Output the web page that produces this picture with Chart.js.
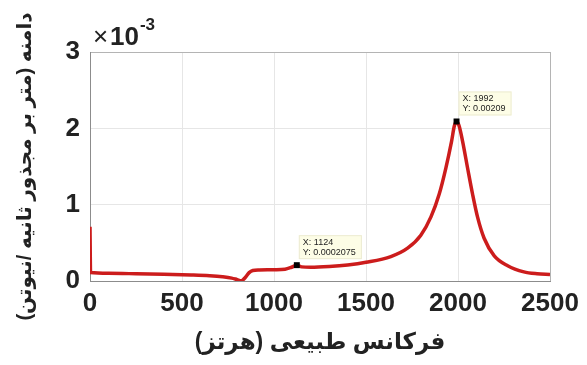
<!DOCTYPE html>
<html>
<head>
<meta charset="utf-8">
<script src="https://cdn.jsdelivr.net/npm/chart.js@4.4.0/dist/chart.umd.min.js"></script>
<style>
  html, body { margin: 0; padding: 0; background: #fff; }
  #wrap { width: 587px; height: 365px; }
</style>
</head>
<body>
<div id="wrap"><canvas id="frfChart" width="587" height="365"></canvas></div>
<script>
// frequency response: amplitude vs natural frequency
const freqHz = [0, 3, 100, 250, 400, 550, 650, 720, 770, 800, 822, 845, 865, 885, 920, 1000, 1060, 1095, 1124, 1150, 1200, 1300, 1400, 1500, 1635, 1726, 1798, 1853, 1898, 1934, 1965, 1980, 1992, 2005, 2025, 2052, 2079, 2106, 2142, 2197, 2270, 2358, 2430, 2500];
const amplitude = [0.00071, 0.00011, 0.0001, 0.000095, 0.000088, 0.000078, 0.000068, 0.000055, 0.000038, 0.000018, 0.000004, 0.00005, 0.00011, 0.000138, 0.000145, 0.000148, 0.000155, 0.00018, 0.0002075, 0.000185, 0.00018, 0.00019, 0.00021, 0.000245, 0.00032, 0.00043, 0.0006, 0.00084, 0.00114, 0.00148, 0.00183, 0.00203, 0.00209, 0.00204, 0.00183, 0.00148, 0.00114, 0.00084, 0.00056, 0.00033, 0.0002, 0.00012, 0.000095, 0.000085];
const tipFreqs = [1124, 1992];
const xTicks = [0, 500, 1000, 1500, 2000, 2500];
const yTicks = [0, 0.001, 0.002, 0.003];

const xTitle = 'فرکانس طبیعی (هرتز)';
const yTitle = 'دامنه (متر بر مجذور ثانیه /نیوتن)';
const fontFamily = '"Liberation Sans", Arial, "DejaVu Sans", sans-serif';

const points = freqHz.map((f, i) => ({ x: f, y: amplitude[i] }));

// MATLAB-style data tips next to the marked points
const dataTips = {
    id: 'dataTips',
    afterDatasetsDraw(chart) {
        const ctx = chart.ctx;
        const meta = chart.getDatasetMeta(0);
        ctx.save();
        ctx.font = '9px ' + fontFamily;
        ctx.textBaseline = 'middle';
        tipFreqs.forEach(f => {
            const i = freqHz.indexOf(f);
            const el = meta.data[i];
            const lines = ['X: ' + f, 'Y: ' + amplitude[i]];
            const w = Math.max(...lines.map(t => ctx.measureText(t).width)) + 10;
            const h = 24;
            const bx = el.x + 2, by = el.y - 6 - h;
            ctx.fillStyle = '#fdfde6';
            ctx.fillRect(bx, by, w, h);
            ctx.strokeStyle = '#ecebd2';
            ctx.lineWidth = 1;
            ctx.strokeRect(bx + 0.5, by + 0.5, w - 1, h - 1);
            ctx.fillStyle = '#222';
            ctx.fillText(lines[0], bx + 4, by + 7);
            ctx.fillText(lines[1], bx + 4, by + 17);
        });
        ctx.restore();
    }
};

// exponent label above the y axis
const exponentLabel = {
    id: 'exponentLabel',
    afterDraw(chart) {
        const ctx = chart.ctx;
        const left = chart.chartArea.left;
        ctx.save();
        ctx.fillStyle = '#222';
        ctx.textBaseline = 'alphabetic';
        ctx.font = '26px ' + fontFamily;
        ctx.fillText('\u00d7', left + 3, 45);
        ctx.font = 'bold 26px ' + fontFamily;
        ctx.fillText('10', left + 20, 45);
        const w = ctx.measureText('10').width;
        ctx.font = 'bold 17px ' + fontFamily;
        ctx.fillText('-3', left + 21 + w, 30);
        ctx.restore();
    }
};

new Chart(document.getElementById('frfChart').getContext('2d'), {
    type: 'line',
    data: {
        datasets: [{
            data: points,
            borderColor: '#cc1c1c',
            borderWidth: 3.5,
            cubicInterpolationMode: 'monotone',
            pointStyle: 'rect',
            pointRadius: ctx => tipFreqs.includes(ctx.raw && ctx.raw.x) ? 4.2 : 0,
            pointBackgroundColor: '#000',
            pointBorderColor: '#000',
            pointBorderWidth: 0
        }]
    },
    options: {
        responsive: false,
        animation: false,
        layout: { padding: { top: 52, right: 37, left: 0, bottom: 0 } },
        plugins: {
            legend: { display: false },
            tooltip: { enabled: false }
        },
        scales: {
            x: {
                type: 'linear',
                min: 0,
                max: 2500,
                afterBuildTicks: scale => { scale.ticks = xTicks.map(v => ({ value: v })); },
                afterFit: scale => { scale.height = 84; },
                grid: {
                    drawTicks: false,
                    color: ctx => ctx.tick && ctx.tick.value === 2500 ? '#b4b4b4' : '#e6e6e6'
                },
                border: { color: '#8c8c8c', width: 1 },
                ticks: {
                    padding: 7,
                    color: '#222',
                    font: { family: fontFamily, size: 26, weight: 'bold' },
                    maxRotation: 0,
                    callback: v => String(v)
                },
                title: {
                    display: true,
                    text: xTitle,
                    color: '#222',
                    padding: { top: 0, bottom: 9 },
                    font: { family: fontFamily, size: 23, weight: 'bold' }
                }
            },
            y: {
                min: 0,
                max: 0.003,
                afterBuildTicks: scale => { scale.ticks = yTicks.map(v => ({ value: v })); },
                afterFit: scale => { scale.width = 90; },
                grid: {
                    drawTicks: false,
                    color: ctx => ctx.tick && ctx.tick.value === 0.003 ? '#b4b4b4' : '#e6e6e6'
                },
                border: { color: '#8c8c8c', width: 1 },
                ticks: {
                    padding: 10,
                    color: '#222',
                    font: { family: fontFamily, size: 26, weight: 'bold' },
                    callback: v => String(Math.round(v * 1000))
                },
                title: {
                    display: true,
                    text: yTitle,
                    color: '#222',
                    padding: { top: 13, bottom: 0 },
                    font: { family: fontFamily, size: 20, weight: 'bold' }
                }
            }
        }
    },
    plugins: [dataTips, exponentLabel]
});
</script>
</body>
</html>
